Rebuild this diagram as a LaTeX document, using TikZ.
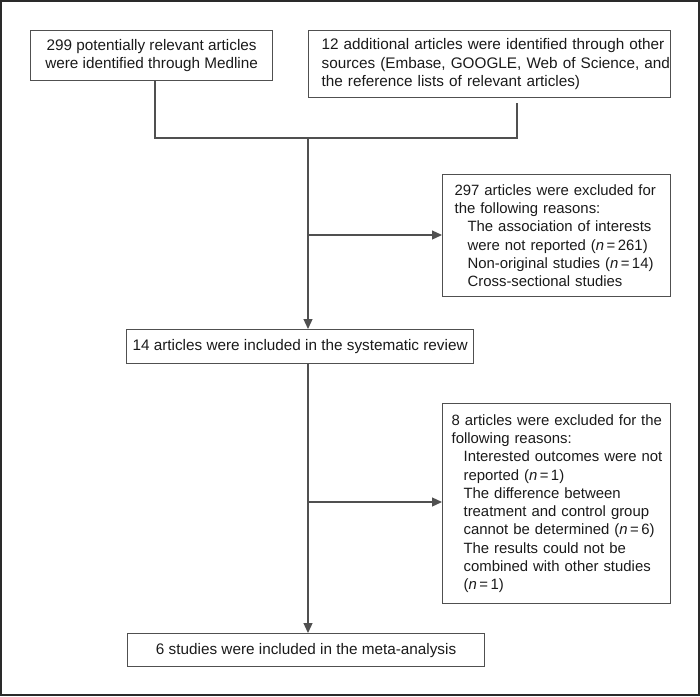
\documentclass[tikz,border=0pt]{standalone}
\usepackage{fontspec}
\setmainfont{Liberation Sans}
\usetikzlibrary{arrows.meta}
\definecolor{boxline}{HTML}{505050}
\definecolor{frameline}{HTML}{2A2A2A}
\definecolor{txt}{HTML}{1A1A1A}
\tikzset{
  box/.style={draw=boxline, line width=1.2pt, rectangle, anchor=north west,
    inner ysep=0pt, text=txt, font=\fontsize{15.3}{18.3}\selectfont},
  cbox/.style={box, align=center},
  lbox/.style={box, align=left},
  sbox/.style={lbox, font=\fontsize{14.9}{18.3}\selectfont},
  conn/.style={draw=boxline, line width=1.2pt},
  arr/.style={conn, -{Triangle[length=10pt,width=9pt]}},
}
\newcommand{\ind}{\hspace*{13pt}}
\newcommand{\nn}[1]{\textit{n}\,=\,#1}
\begin{document}
\begin{tikzpicture}[x=1pt,y=-1pt]
\useasboundingbox (0,0) rectangle (700,696);
\draw[frameline, line width=2pt] (1,1) rectangle (699,694.5);
\node[cbox, minimum width=242pt, minimum height=50pt] (A) at (30,30)
  {299 potentially relevant articles\\were identified through Medline};
\node[lbox, minimum height=67pt, inner xsep=13pt, text width=336pt] (B) at (308,30)
  {\mbox{12 additional articles were identified through other}\\
   \mbox{sources (Embase, GOOGLE, Web of Science, and}\\
   \mbox{the reference lists of relevant articles)}};
\node[sbox, minimum height=122pt, inner xsep=12pt, text width=204pt] (C) at (442,174)
  {\mbox{297 articles were excluded for}\\
   \mbox{the following reasons:}\\
   \mbox{\ind The association of interests}\\
   \mbox{\ind were not reported (\nn{261})}\\
   \mbox{\ind Non-original studies (\nn{14})}\\
   \mbox{\ind Cross-sectional studies}};
\node[cbox, minimum width=347pt, minimum height=34pt] (D) at (126,329)
  {14 articles were included in the systematic review};
\node[sbox, minimum height=200pt, inner xsep=9pt, text width=210pt] (E) at (442,403)
  {\mbox{8 articles were excluded for the}\\
   \mbox{following reasons:}\\
   \mbox{\hspace*{12pt}Interested outcomes were not}\\
   \mbox{\hspace*{12pt}reported (\nn{1})}\\
   \mbox{\hspace*{12pt}The difference between}\\
   \mbox{\hspace*{12pt}treatment and control group}\\
   \mbox{\hspace*{12pt}cannot be determined (\nn{6})}\\
   \mbox{\hspace*{12pt}The results could not be}\\
   \mbox{\hspace*{12pt}combined with other studies}\\
   \mbox{\hspace*{12pt}(\nn{1})}};
\node[cbox, minimum width=357pt, minimum height=33pt] (F) at (127,633)
  {6 studies were included in the meta-analysis};
% junctions
\coordinate (jA) at (155,138);
\coordinate (bB) at (517,103);
\coordinate (jB) at (517,138);
\coordinate (j1) at (308,138);
\coordinate (j2) at (308,235);
\coordinate (j3) at (308,502);
\draw[conn] (A.south -| jA) -- (jA) -- (jB) -- (bB);
\draw[arr] (j1) -- (j1 |- D.north);
\draw[arr] (j2) -- (j2 -| C.west);
\draw[arr] (D.south -| j1) -- (j1 |- F.north);
\draw[arr] (j3) -- (j3 -| E.west);
\end{tikzpicture}
\end{document}
